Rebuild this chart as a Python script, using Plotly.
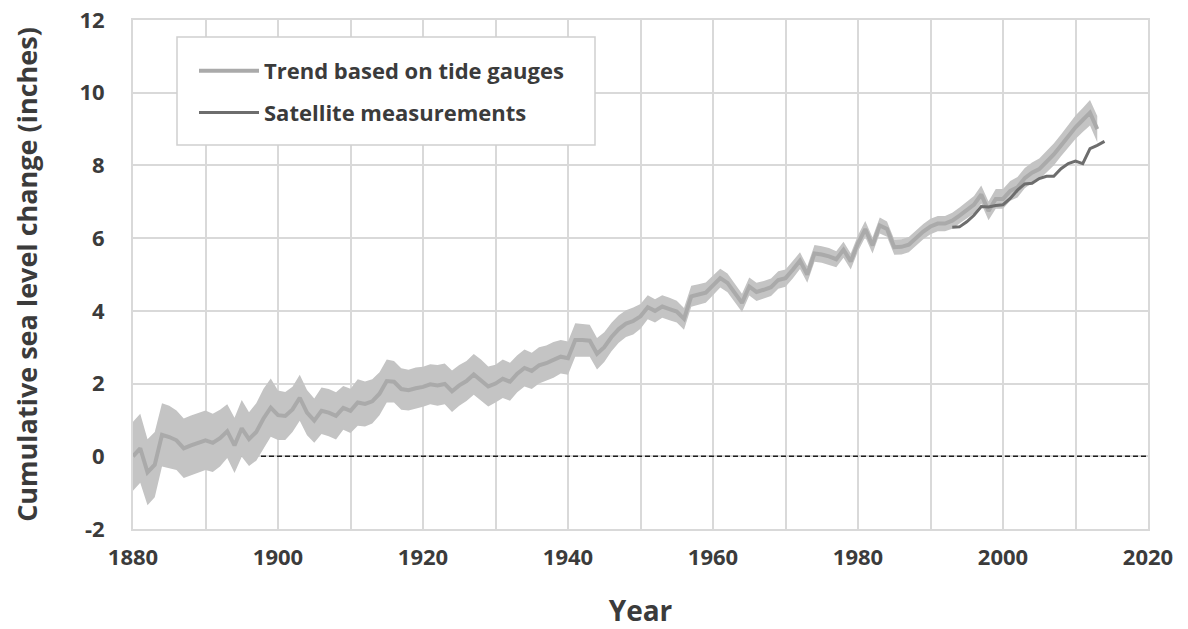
import plotly.graph_objects as go

# ---------------- data ----------------
tide_years = list(range(1880, 2014))
tide_mean = [
    0.00, 0.22, -0.44, -0.23, 0.59, 0.53, 0.44, 0.22, 0.30, 0.36,
    0.44, 0.37, 0.50, 0.69, 0.30, 0.77, 0.47, 0.67, 1.04, 1.34,
    1.13, 1.11, 1.29, 1.61, 1.20, 0.98, 1.25, 1.20, 1.11, 1.33,
    1.25, 1.48, 1.44, 1.51, 1.72, 2.07, 2.05, 1.85, 1.82, 1.87,
    1.91, 1.98, 1.95, 1.99, 1.79, 1.95, 2.07, 2.25, 2.10, 1.92,
    2.00, 2.13, 2.05, 2.27, 2.43, 2.35, 2.50, 2.56, 2.65, 2.74,
    2.70, 3.20, 3.20, 3.18, 2.82, 3.00, 3.28, 3.50, 3.65, 3.72,
    3.85, 4.10, 4.00, 4.12, 4.05, 3.98, 3.78, 4.40, 4.45, 4.50,
    4.70, 4.90, 4.77, 4.50, 4.22, 4.67, 4.52, 4.58, 4.65, 4.85,
    4.90, 5.13, 5.38, 5.00, 5.58, 5.55, 5.50, 5.42, 5.68, 5.36,
    5.86, 6.25, 5.80, 6.35, 6.25, 5.75, 5.76, 5.82, 6.00, 6.18,
    6.32, 6.40, 6.40, 6.48, 6.62, 6.78, 6.92, 7.20, 6.75, 7.08,
    7.08, 7.30, 7.40, 7.65, 7.80, 7.90, 8.10, 8.30, 8.55, 8.80,
    9.05, 9.25, 9.45, 9.00,
]
tide_err = [
    0.95, 0.95, 0.91, 0.90, 0.87, 0.86, 0.82, 0.82, 0.82, 0.82,
    0.82, 0.80, 0.78, 0.74, 0.76, 0.78, 0.74, 0.79, 0.82, 0.80,
    0.68, 0.66, 0.62, 0.63, 0.62, 0.61, 0.64, 0.65, 0.65, 0.60,
    0.61, 0.64, 0.62, 0.61, 0.59, 0.59, 0.57, 0.57, 0.56, 0.57,
    0.55, 0.55, 0.56, 0.56, 0.57, 0.56, 0.55, 0.56, 0.56, 0.55,
    0.52, 0.53, 0.52, 0.51, 0.51, 0.50, 0.50, 0.49, 0.49, 0.46,
    0.46, 0.46, 0.45, 0.44, 0.43, 0.41, 0.39, 0.38, 0.37, 0.37,
    0.34, 0.33, 0.32, 0.31, 0.31, 0.30, 0.30, 0.29, 0.28, 0.28,
    0.27, 0.26, 0.26, 0.26, 0.25, 0.25, 0.25, 0.24, 0.24, 0.24,
    0.24, 0.24, 0.23, 0.23, 0.23, 0.23, 0.23, 0.22, 0.22, 0.22,
    0.22, 0.22, 0.22, 0.22, 0.21, 0.21, 0.21, 0.21, 0.21, 0.21,
    0.21, 0.21, 0.21, 0.22, 0.22, 0.23, 0.24, 0.25, 0.26, 0.27,
    0.27, 0.27, 0.28, 0.28, 0.28, 0.29, 0.29, 0.30, 0.30, 0.31,
    0.32, 0.33, 0.35, 0.36,
]
sat_years = list(range(1993, 2015))
sat_values = [
    6.30, 6.31, 6.45, 6.63, 6.87, 6.86, 6.90, 6.92, 7.09, 7.32,
    7.49, 7.51, 7.64, 7.70, 7.70, 7.91, 8.05, 8.12, 8.05, 8.46,
    8.55, 8.66,
]
x_ticks = [1880, 1900, 1920, 1940, 1960, 1980, 2000, 2020]
y_ticks = [-2, 0, 2, 4, 6, 8, 10, 12]
y_tick_text = ["-2", "0", "2", "4", "6", "8", "10", "12"]

tide_lower = [m - e for m, e in zip(tide_mean, tide_err)]
tide_upper = [m + e for m, e in zip(tide_mean, tide_err)]

FONT = "Open Sans"
TXT = "#3b3b3b"
GRID = "#d9d9d9"

# plot area at x 133..1148, y 20..529 of the 1188x629 window (page margin removed below)
W, H = 1188, 629
L, R, T, B = 133, W - 1148, 20, H - 529
PW, PH = W - L - R, H - T - B


def px_x(x):  # window pixel -> paper fraction
    return (x - L) / PW


def px_y(y):
    return (H - B - y) / PH


fig = go.Figure()

# uncertainty band
fig.add_trace(go.Scatter(x=tide_years, y=tide_lower, mode="lines",
                         line=dict(width=0, color="#c4c4c4"),
                         showlegend=False, hoverinfo="skip"))
fig.add_trace(go.Scatter(x=tide_years, y=tide_upper, mode="lines",
                         line=dict(width=0, color="#c4c4c4"),
                         fill="tonexty", fillcolor="#c4c4c4",
                         showlegend=False, hoverinfo="skip"))
# trend line
fig.add_trace(go.Scatter(x=tide_years, y=tide_mean, mode="lines",
                         name="Trend based on tide gauges",
                         line=dict(width=4, color="#aaaaaa"),
                         legendgroup="a"))
# satellite
fig.add_trace(go.Scatter(x=sat_years, y=sat_values, mode="lines",
                         name="Satellite measurements",
                         line=dict(width=3, color="#6d6d6d"),
                         legendgroup="b"))

# zero reference line
fig.add_shape(type="line", xref="x", yref="y", x0=1880, x1=2020, y0=0, y1=0,
              line=dict(color="#1e1e1e", width=1.4, dash="5px,3px"), layer="between")

# legend box
fig.add_shape(type="rect", xref="paper", yref="paper",
              x0=px_x(177), x1=px_x(595), y0=px_y(145), y1=px_y(37),
              line=dict(color="#d0d0d0", width=1.5), fillcolor="white", layer="above")

fig.update_layout(
    width=W, height=H,
    margin=dict(l=L, r=R, t=T, b=B, autoexpand=False),
    paper_bgcolor="white", plot_bgcolor="white",
    font=dict(family=FONT, color=TXT),
    showlegend=True,
    legend=dict(x=px_x(194), y=px_y(50), xanchor="left", yanchor="top",
                bgcolor="rgba(0,0,0,0)", borderwidth=0,
                font=dict(size=22, family=FONT, color=TXT, weight=700),
                traceorder="grouped", tracegroupgap=10, itemwidth=60),
    xaxis=dict(range=[1880, 2020], tickvals=x_ticks, ticks="", automargin=False,
               showgrid=True, gridcolor=GRID, gridwidth=2,
               minor=dict(dtick=10, tick0=1880, showgrid=True, gridcolor=GRID, gridwidth=2),
               showline=True, linecolor=GRID, linewidth=2, mirror=True,
               zeroline=False, ticklabeloverflow="allow",
               tickfont=dict(size=22, family=FONT, color=TXT, weight=700),
               ticklabelstandoff=8,
               title=dict(text="Year", standoff=32,
                          font=dict(size=28, family=FONT, color=TXT, weight=700))),
    yaxis=dict(range=[-2, 12], tickvals=y_ticks, ticktext=y_tick_text, ticks="", automargin=False,
               showgrid=True, gridcolor=GRID, gridwidth=2,
               showline=True, linecolor=GRID, linewidth=2, mirror=True,
               zeroline=False, ticklabeloverflow="allow",
               tickfont=dict(size=22, family=FONT, color=TXT, weight=700),
               ticklabelstandoff=22,
               title=dict(text="Cumulative sea level change (inches)", standoff=34,
                          font=dict(size=27, family=FONT, color=TXT, weight=700))),
)

fig.write_html("out.html",
               config={"displayModeBar": False},
               post_script="document.body.style.margin='0';document.body.style.overflow='hidden';")
